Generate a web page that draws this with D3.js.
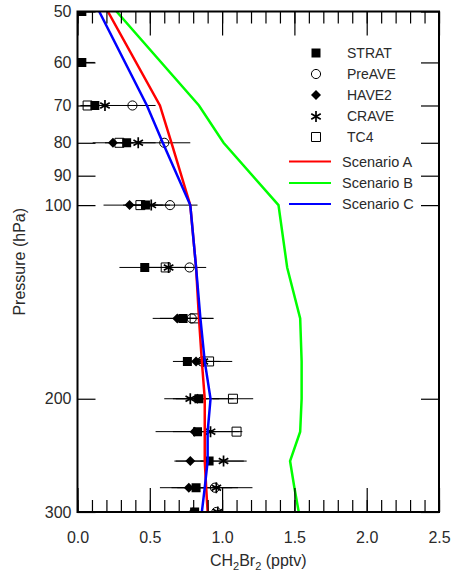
<!DOCTYPE html>
<html>
<head>
<meta charset="utf-8">
<script src="https://cdn.jsdelivr.net/npm/d3@7"></script>
<style>
  html, body { margin: 0; padding: 0; background: #fff; }
  svg { display: block; font-family: "Liberation Sans", Arial, Helvetica, sans-serif; }
</style>
</head>
<body>
<div id="chart"></div>
<script>
// model profiles (pressure levels, hPa) and mixing ratios (pptv)
const modelLevels = [50, 70, 80, 100, 125, 150, 175, 200, 225, 250, 275, 300];
const scenarioA = [0.21, 0.57, 0.65, 0.78, 0.82, 0.84, 0.86, 0.88, 0.88, 0.88, 0.89, 0.90];
const scenarioB = [0.27, 0.84, 1.01, 1.39, 1.45, 1.54, 1.55, 1.55, 1.54, 1.47, 1.50, 1.53];
const scenarioC = [0.15, 0.48, 0.59, 0.78, 0.82, 0.85, 0.88, 0.92, 0.90, 0.90, 0.88, 0.86];

// observations by campaign
const stratP = [50, 60, 70, 80, 100, 125, 150, 175, 200, 225, 250, 275, 300];
const stratV = [0.03, 0.03, 0.12, 0.34, 0.47, 0.465, 0.73, 0.76, 0.84, 0.83, 0.91, 0.82, 0.81];
const stratE = [0.03, 0.09, 0.08, 0.10, 0.12, 0.175, 0.21, 0.10, 0.24, 0.29, 0.24, 0.25, 0.20];

const preaveP = [70, 80, 100, 125, 150, 175, 275, 300];
const preaveV = [0.38, 0.60, 0.64, 0.775, 0.79, 0.86, 0.95, 0.96];
const preaveE = [0.16, 0.18, 0.19, 0.115, 0.10, 0.12, 0.26, 0.15];

const have2P = [80, 100, 150, 175, 200, 225, 250, 275, 300];
const have2V = [0.245, 0.36, 0.69, 0.82, 0.83, 0.81, 0.78, 0.77, 0.80];
const have2E = [0.14, 0.18, 0.12, 0.10, 0.15, 0.15, 0.10, 0.12, 0.10];

const craveP = [70, 80, 100, 125, 175, 200, 225, 250, 275, 300];
const craveV = [0.19, 0.42, 0.51, 0.63, 0.87, 0.78, 0.92, 1.01, 0.96, 0.97];
const craveE = [0.10, 0.12, 0.13, 0.14, 0.12, 0.12, 0.14, 0.16, 0.15, 0.10];

const tc4P = [70, 80, 100, 125, 150, 175, 200, 225];
const tc4V = [0.07, 0.29, 0.435, 0.61, 0.81, 0.91, 1.075, 1.10];
const tc4E = [0.05, 0.10, 0.12, 0.12, 0.13, 0.16, 0.14, 0.04];

const xTicks = [0, 0.5, 1.0, 1.5, 2.0, 2.5];
const xMinorStep = 0.1;
const yTicks = [50, 60, 70, 80, 90, 100, 200, 300];

const width = 453;
const height = 573;
const margin = { top: 11.5, right: 14, bottom: 61, left: 77.5 };
const textColor = '#2a2a2a';

const svg = d3.select('#chart')
  .append('svg')
  .attr('width', width)
  .attr('height', height);

const x = d3.scaleLinear()
  .domain([0, 2.5])
  .range([margin.left, width - margin.right]);

const y = d3.scaleLog()
  .domain([50, 300])
  .range([margin.top, height - margin.bottom]);

const x0 = x.range()[0], x1 = x.range()[1];
const y0 = y.range()[0], y1 = y.range()[1];

svg.append('clipPath')
  .attr('id', 'plot-clip')
  .append('rect')
  .attr('x', x0).attr('y', y0)
  .attr('width', x1 - x0).attr('height', y1 - y0);

const plot = svg.append('g').attr('clip-path', 'url(#plot-clip)');

// ticks (all inward)
const xMinor = d3.range(0, 2.5 + 1e-9, xMinorStep);

svg.append('g')
  .attr('transform', `translate(0,${y1})`)
  .call(d3.axisBottom(x).tickValues(xMinor).tickSize(-12).tickFormat(''))
  .call(g => g.select('.domain').remove());

svg.append('g')
  .attr('transform', `translate(0,${y1})`)
  .call(d3.axisBottom(x).tickValues(xTicks).tickSize(-24).tickPadding(20).tickFormat(d3.format('.1f')))
  .call(g => g.select('.domain').remove())
  .call(g => g.selectAll('text').attr('fill', textColor).style('font-size', '16px'));

svg.append('g')
  .attr('transform', `translate(0,${y0})`)
  .call(d3.axisTop(x).tickValues(xMinor).tickSize(-12).tickFormat(''))
  .call(g => g.select('.domain').remove());

svg.append('g')
  .attr('transform', `translate(0,${y0})`)
  .call(d3.axisTop(x).tickValues(xTicks).tickSize(-24).tickFormat(''))
  .call(g => g.select('.domain').remove());

svg.append('g')
  .attr('transform', `translate(${x0},0)`)
  .call(d3.axisLeft(y).tickValues(yTicks).tickSize(-18).tickPadding(6).tickFormat(d3.format('d')))
  .call(g => g.select('.domain').remove())
  .call(g => g.selectAll('text').attr('fill', textColor).style('font-size', '16px'));

svg.append('g')
  .attr('transform', `translate(${x1},0)`)
  .call(d3.axisRight(y).tickValues(yTicks).tickSize(-18).tickFormat(''))
  .call(g => g.select('.domain').remove());

svg.selectAll('.tick line').attr('stroke', '#000').attr('stroke-width', 1.2);

// model lines
const scenarios = [
  { name: 'Scenario A', values: scenarioA, color: '#ff0000' },
  { name: 'Scenario B', values: scenarioB, color: '#00ff00' },
  { name: 'Scenario C', values: scenarioC, color: '#0000ff' }
];

const line = d3.line()
  .x(d => x(d[1]))
  .y(d => y(d[0]));

// observations
const diamond = s => `M0,${-s}L${s},0L0,${s}L${-s},0Z`;
const campaigns = [
  { name: 'STRAT', p: stratP, v: stratV, e: stratE, path: d3.symbol(d3.symbolSquare, 81)(), fill: '#000', stroke: 'none', sw: 1 },
  { name: 'PreAVE', p: preaveP, v: preaveV, e: preaveE, path: d3.symbol(d3.symbolCircle, 66)(), fill: 'none', stroke: '#000', sw: 1 },
  { name: 'HAVE2', p: have2P, v: have2V, e: have2E, path: diamond(5), fill: '#000', stroke: 'none', sw: 1 },
  { name: 'CRAVE', p: craveP, v: craveV, e: craveE, path: d3.symbol(d3.symbolAsterisk, 85)(), fill: 'none', stroke: '#000', sw: 1.7 },
  { name: 'TC4', p: tc4P, v: tc4V, e: tc4E, path: d3.symbol(d3.symbolSquare, 81)(), fill: 'none', stroke: '#000', sw: 1 }
];

campaigns.forEach(c => {
  c.points = c.p.map((p, i) => ({ p, v: c.v[i], e: c.e[i] }));
});

campaigns.forEach(c => {
  plot.append('g')
    .selectAll('line')
    .data(c.points)
    .enter()
    .append('line')
    .attr('x1', d => x(d.v - d.e))
    .attr('x2', d => x(d.v + d.e))
    .attr('y1', d => y(d.p))
    .attr('y2', d => y(d.p))
    .attr('stroke', '#000')
    .attr('stroke-width', 1);
});

campaigns.forEach(c => {
  plot.append('g')
    .selectAll('path')
    .data(c.points)
    .enter()
    .append('path')
    .attr('transform', d => `translate(${x(d.v)},${y(d.p)})`)
    .attr('d', c.path)
    .attr('fill', c.fill)
    .attr('stroke', c.stroke)
    .attr('stroke-width', c.sw);
});

scenarios.forEach(s => {
  plot.append('path')
    .datum(modelLevels.map((p, i) => [p, s.values[i]]))
    .attr('fill', 'none')
    .attr('stroke', s.color)
    .attr('stroke-width', 2.5)
    .attr('stroke-linejoin', 'miter')
    .attr('d', line);
});

// frame
svg.append('rect')
  .attr('x', x0).attr('y', y0)
  .attr('width', x1 - x0).attr('height', y1 - y0)
  .attr('fill', 'none')
  .attr('stroke', '#000')
  .attr('stroke-width', 2);

// legend
const legend = svg.append('g');
const legendRowsY = [53, 74, 95, 116.5, 137];
campaigns.forEach((c, i) => {
  legend.append('path')
    .attr('transform', `translate(316,${legendRowsY[i]})`)
    .attr('d', c.path)
    .attr('fill', c.fill)
    .attr('stroke', c.stroke)
    .attr('stroke-width', c.sw);
  legend.append('text')
    .attr('x', 347).attr('y', legendRowsY[i])
    .attr('dy', '0.35em')
    .attr('fill', textColor)
    .style('font-size', '14px')
    .text(c.name);
});

const legendLinesY = [161.5, 183, 204];
scenarios.forEach((s, i) => {
  legend.append('line')
    .attr('x1', 289).attr('x2', 331)
    .attr('y1', legendLinesY[i]).attr('y2', legendLinesY[i])
    .attr('stroke', s.color)
    .attr('stroke-width', 2);
  legend.append('text')
    .attr('x', 342).attr('y', legendLinesY[i])
    .attr('dy', '0.35em')
    .attr('fill', textColor)
    .style('font-size', '14.5px')
    .text(s.name);
});

// axis titles
svg.append('text')
  .attr('transform', `translate(25,${(y0 + y1) / 2}) rotate(-90)`)
  .attr('text-anchor', 'middle')
  .attr('fill', textColor)
  .style('font-size', '16px')
  .text('Pressure (hPa)');

const xTitle = svg.append('text')
  .attr('x', (x0 + x1) / 2)
  .attr('y', 566)
  .attr('text-anchor', 'middle')
  .attr('fill', textColor)
  .style('font-size', '16px');
xTitle.append('tspan').text('CH');
xTitle.append('tspan').attr('dy', 4).style('font-size', '11px').text('2');
xTitle.append('tspan').attr('dy', -4).text('Br');
xTitle.append('tspan').attr('dy', 4).style('font-size', '11px').text('2');
xTitle.append('tspan').attr('dy', -4).text(' (pptv)');
</script>
</body>
</html>
